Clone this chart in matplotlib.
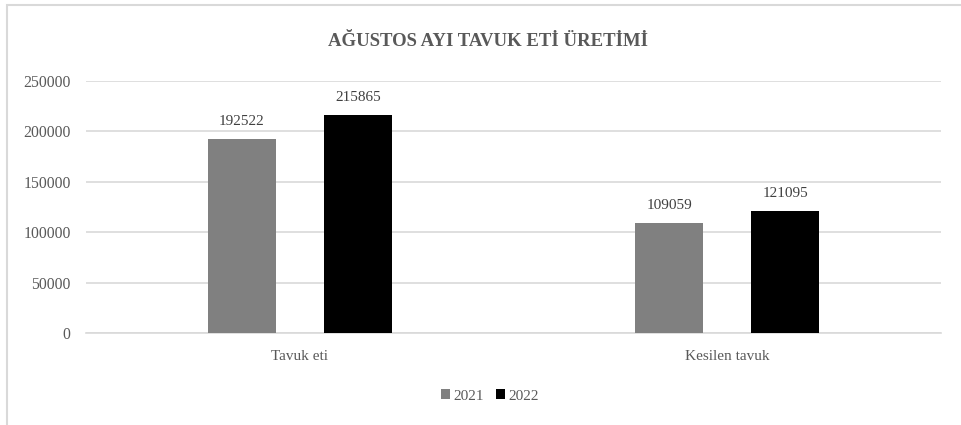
import matplotlib
matplotlib.use("Agg")
import matplotlib.pyplot as plt
import numpy as np
from matplotlib.patches import Rectangle

categories = ["Tavuk eti", "Kesilen tavuk"]
series_names = ["2021", "2022"]
values_2021 = [192522, 109059]
values_2022 = [215865, 121095]
yticks = [0, 50000, 100000, 150000, 200000, 250000]
title = "AĞUSTOS AYI TAVUK ETİ ÜRETİMİ"

plt.rcParams['font.family'] = ['Liberation Serif', 'DejaVu Serif']

W, H = 961, 425
fig = plt.figure(figsize=(W / 100, H / 100), dpi=100)
fig.patch.set_facecolor("white")

# figure frame
fig.add_artist(Rectangle((6.5 / W, -0.1), 1.2, (H - 5.5) / H + 0.1, transform=fig.transFigure,
                         fill=False, edgecolor="#d9d9d9", linewidth=1.5))

left, right = 86 / W, 941 / W
bottom, top = 1 - 333 / H, 1 - 81 / H
ax = fig.add_axes([left, bottom, right - left, top - bottom])

x = np.arange(len(categories))
bw = 0.159
off = 0.136
colors = ["#808080", "#000000"]
for vals, dx, c, name in [(values_2021, -off, colors[0], series_names[0]),
                          (values_2022, off, colors[1], series_names[1])]:
    bars = ax.bar(x + dx, vals, width=bw, color=c, label=name, zorder=3)
    for b, v in zip(bars, vals):
        ax.annotate(str(v), (b.get_x() + b.get_width() / 2, v), xytext=(0, 8),
                    textcoords="offset points", ha="center", va="bottom",
                    fontsize=11, color="#404040")

ax.set_xlim(-0.5, 1.5)
ax.set_ylim(0, 250000)
ax.set_yticks(yticks)
ax.set_yticklabels([str(t) for t in yticks], fontsize=11.3, color="#595959")
ax.set_xticks(x)
ax.set_xticklabels(categories, fontsize=11, color="#595959")
ax.tick_params(axis="both", length=0)
ax.tick_params(axis="y", pad=11)
ax.tick_params(axis="x", pad=12)
ax.yaxis.grid(True, color="#d9d9d9", linewidth=1.2, zorder=0)
for s in ["top", "right", "left"]:
    ax.spines[s].set_visible(False)
ax.spines["bottom"].set_color("#d9d9d9")
ax.spines["bottom"].set_linewidth(1.2)
ax.set_facecolor("none")

fig.text(488 / W, 1 - 41 / H, title, ha="center", va="center", fontsize=13.5,
         fontweight="bold", color="#595959")

leg = fig.legend(loc="center", bbox_to_anchor=(490 / W, 1 - 396 / H), ncol=2,
                 frameon=False, fontsize=11, handlelength=0.6, handleheight=0.6,
                 handletextpad=0.2, columnspacing=0.8)
for t in leg.get_texts():
    t.set_color("#595959")

fig.savefig("out.png", dpi=100, facecolor="white")
